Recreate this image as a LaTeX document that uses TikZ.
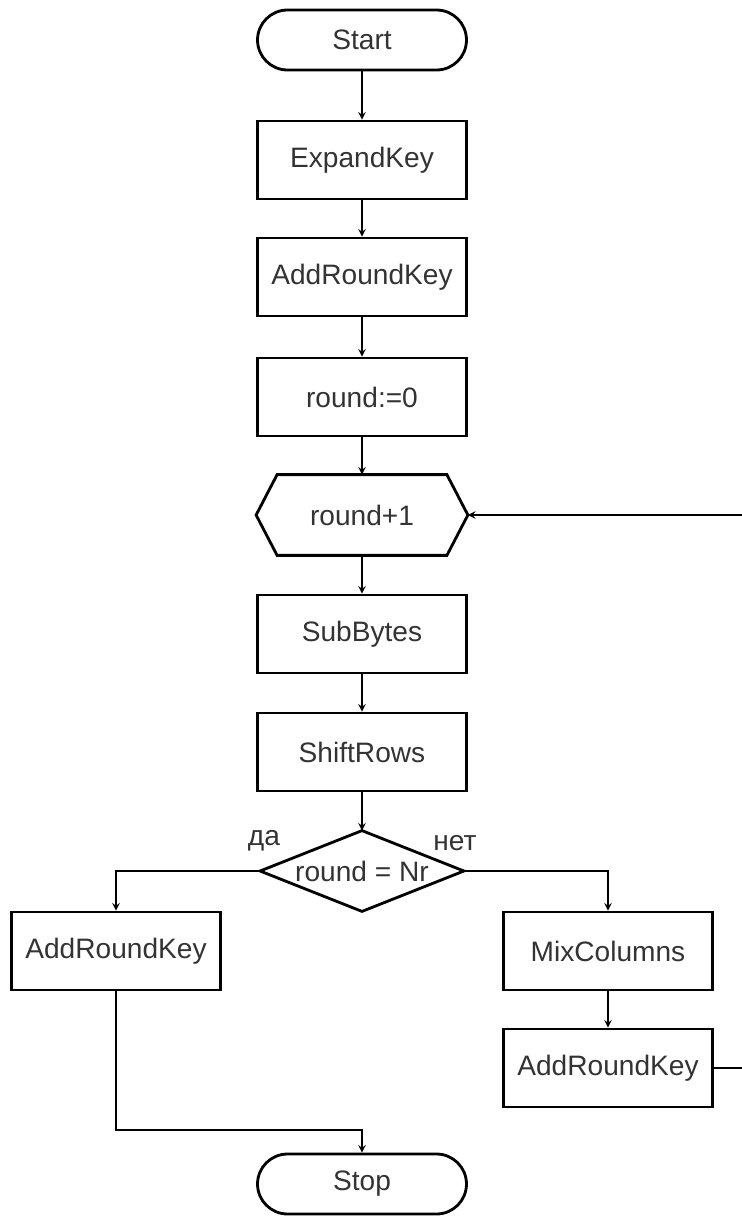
\documentclass[tikz,border=0pt]{standalone}
\usepackage{fontspec}
\setmainfont{Liberation Sans}
\usetikzlibrary{calc,arrows.meta}

\begin{document}
\begin{tikzpicture}[x=0.02cm, y=-0.02cm,
        blk/.style={draw, line width=1.6pt, minimum width=4.18cm, minimum height=1.56cm, inner sep=0pt,
            text=black!80, font=\fontsize{16}{19}\selectfont},
        term/.style={blk, rounded corners=0.6cm, minimum height=1.2cm},
        lbl/.style={text=black!80, font=\fontsize{16}{19}\selectfont}]
        \useasboundingbox (0,0) rectangle (742,1217);
        % blocks
        \node[term](start)at(362,40){Start};
        \node[blk](expand)at(362,160){ExpandKey};
        \node[blk](addkey)at(362,277){AddRoundKey};
        \node[blk](init)at(362,397){round:=0};
        \node[blk, draw=none](inc)at(362,515){round+1};
        \node[blk](sub)at(362,634){SubBytes};
        \node[blk](shift)at(362,752){ShiftRows};
        \node[blk, draw=none, minimum width=4.02cm](cond)at(362,871){round = Nr};
        \node[blk](lastkey)at(116,951){AddRoundKey};
        \node[blk](mix)at(608,951){MixColumns};
        \node[blk](addkey2)at(608,1068){AddRoundKey};
        \node[term](stop)at(362,1184){Stop};
        % hexagon and diamond
        \path[draw, line width=1.6pt](inc.west)--($(inc.north west)+(21,0)$)--($(inc.north east)+(-21,0)$)
            --(inc.east)--($(inc.south east)+(-21,0)$)--($(inc.south west)+(21,0)$)--cycle;
        \path[draw, line width=1.6pt](cond.west)--(cond.north)--(cond.east)--(cond.south)--cycle;
        \node[lbl, anchor=south](yes)at(264,857){да};
        \node[lbl, anchor=south](no)at(455,857){нет};
        % arrows
        \foreach \a/\b in {start/expand,expand/addkey,addkey/init,init/inc,inc/sub,sub/shift,shift/cond,mix/addkey2}
        {
            \path[draw, line width=0.9pt, -stealth](\a)to(\b);
        }
        \path[draw, line width=0.9pt, -stealth](cond.west)-|(lastkey);
        \path[draw, line width=0.9pt, -stealth](cond.east)-|(mix);
        \coordinate(join)at(362,1130);
        \path[draw, line width=0.9pt, -stealth](lastkey)|-(join)--(stop);
        % loop back (its vertical part lies past the right edge)
        \coordinate(back)at(746,1068);
        \path[draw, line width=0.9pt, -stealth](addkey2)--(back)|-(inc);
    \end{tikzpicture}
\end{document}
